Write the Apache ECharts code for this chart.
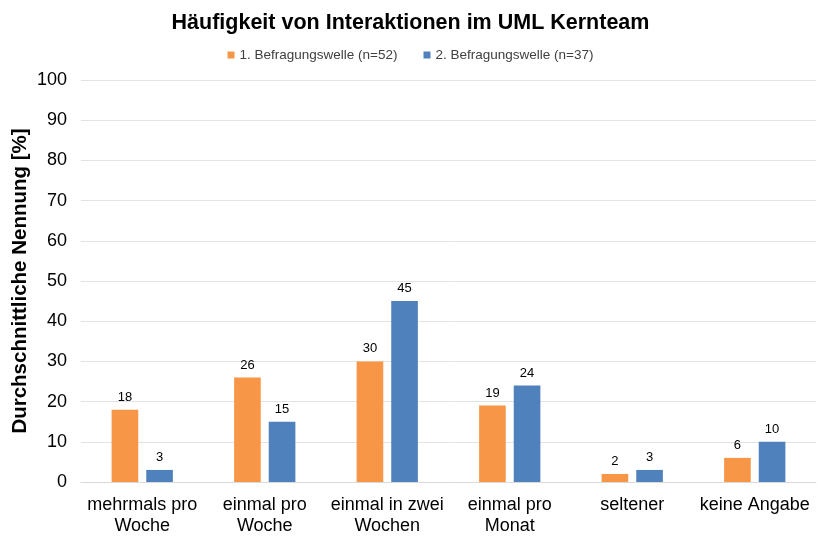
<!DOCTYPE html>
<html>
<head>
<meta charset="utf-8">
<script src="https://cdn.jsdelivr.net/npm/echarts@6/dist/echarts.min.js"></script>
<style>html,body{margin:0;padding:0;background:#fff}#chart{width:821px;height:536px}</style>
</head>
<body>
<div id="chart"></div>
<script>
var categories = ['mehrmals pro\nWoche', 'einmal pro\nWoche', 'einmal in zwei\nWochen', 'einmal pro\nMonat', 'seltener', 'keine Angabe'];
var welle1 = [18, 26, 30, 19, 2, 6];
var welle2 = [3, 15, 45, 24, 3, 10];
var seriesNames = ['1. Befragungswelle (n=52)', '2. Befragungswelle (n=37)'];

var font = 'Liberation Sans, Arial, sans-serif';
var chart = echarts.init(document.getElementById('chart'));
chart.setOption({
  animation: false,
  textStyle: {fontFamily: font},
  color: ['#F79646', '#4F81BD'],
  title: {
    text: 'Häufigkeit von Interaktionen im UML Kernteam',
    left: 'center', top: 7,
    textStyle: {fontSize: 21.5, fontWeight: 'bold', color: '#000', fontFamily: font}
  },
  legend: {
    top: 43, left: 'center',
    itemWidth: 7, itemHeight: 7, itemGap: 26,
    icon: 'rect',
    textStyle: {fontSize: 13.5, color: '#404040', fontFamily: font},
    data: seriesNames
  },
  grid: {left: 81, right: 5, top: 80, bottom: 54, outerBoundsMode: 'none'},
  xAxis: {
    type: 'category',
    data: categories,
    axisTick: {show: false},
    axisLine: {lineStyle: {color: '#d9d9d9'}},
    axisLabel: {fontSize: 18, color: '#000', lineHeight: 21, margin: 13, interval: 0}
  },
  yAxis: {
    type: 'value', min: 0, max: 100, interval: 10,
    name: 'Durchschnittliche Nennung [%]',
    nameLocation: 'middle', nameGap: 50, nameMoveOverlap: false,
    nameTextStyle: {fontSize: 20.5, fontWeight: 'bold', color: '#000'},
    axisLabel: {fontSize: 18, color: '#000', margin: 14},
    splitLine: {lineStyle: {color: '#e3e3e3'}}
  },
  series: [
    {name: seriesNames[0], type: 'bar', data: welle1, barGap: '30%', barCategoryGap: '50%',
     label: {show: true, position: 'top', fontSize: 13, color: '#000', distance: 6}},
    {name: seriesNames[1], type: 'bar', data: welle2,
     label: {show: true, position: 'top', fontSize: 13, color: '#000', distance: 6}}
  ]
});
</script>
</body>
</html>
